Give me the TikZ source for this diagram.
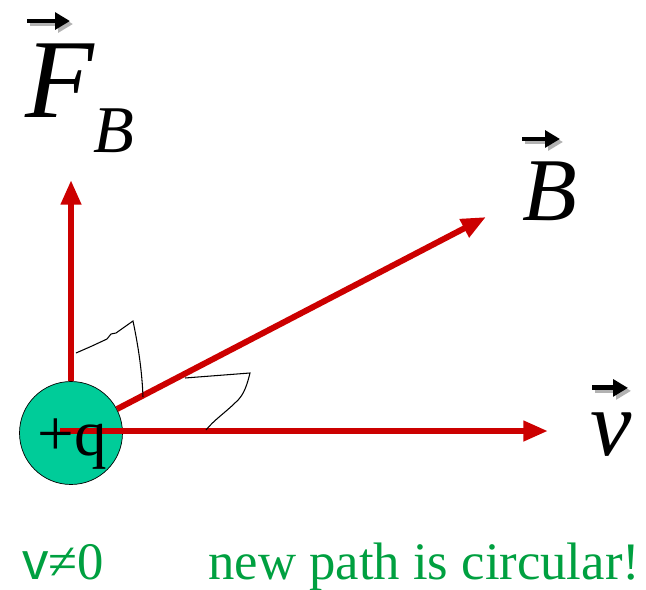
\documentclass[tikz,border=0pt]{standalone}
\usepackage{fontspec}
\setmainfont{Liberation Serif}
\newfontfamily\arialfont{Liberation Sans}
\usetikzlibrary{arrows.meta,calc}
\definecolor{chargeteal}{HTML}{00CC99}
\definecolor{vecred}{HTML}{CC0000}
\definecolor{notegreen}{HTML}{00A040}

\begin{document}
\begin{tikzpicture}[x=0.02cm, y=-0.02cm]
      % Styles
      \tikzset{
        charge/.style = {circle, draw=black, thin, fill=chargeteal, minimum size=2.06cm, inner sep=0pt},
        vecarrow/.style = {draw=vecred, line width=3.4pt, -{Triangle[length=14pt, width=11pt]}},
        veclabel/.style = {inner sep=0pt, anchor=base west},
        accent/.style = {line width=2.8pt, -{Triangle[length=8.5pt, width=9.5pt]}},
        scribble/.style = {draw=black, line width=0.6pt},
        note/.style = {inner sep=0pt, anchor=base west, text=notegreen, font=\fontsize{30}{30}\selectfont}
      }
      \useasboundingbox (0,0) rectangle (646,589);

      % Charge
      \node[charge] (q) at (71,433) {};

      % Pointes des vecteurs
      \coordinate (Ftip) at (71,180);
      \coordinate (Btip) at (486,217);
      \coordinate (vtip) at (548,431);
      \coordinate (vstart) at ($(q.center)+(-11,-2)$);

      % Vecteurs
      \draw[vecarrow] (q) -- (Ftip);
      \draw[vecarrow] (q) -- (Btip);
      \draw[vecarrow] (vstart) -- (vtip);

      \node[inner sep=0pt, anchor=base, font=\fontsize{37}{37}\selectfont] (qlab) at (72,455) {+q};

      % Angles droits (traits a main levee)
      \draw[scribble] (76,353) -- (92,346) -- (107,339) -- (111,334) -- (116,333) -- (133,321)
        .. controls (138,345) and (142,370) .. (143,397);
      \draw[scribble] (185,378) -- (250,373)
        .. controls (247,385) and (244,395) .. (236,402)
        .. controls (226,412) and (214,420) .. (206,430);

      % Etiquettes
      \node[veclabel, font=\itshape\fontsize{64}{64}\selectfont] (Flab) at (25,117) {F};
      \node[veclabel, font=\itshape\fontsize{38}{38}\selectfont] (FBlab) at (93,152) {B};
      \node[veclabel, font=\itshape\fontsize{51}{51}\selectfont] (Blab) at (522,220) {B};
      \node[veclabel, font=\itshape\fontsize{53}{53}\selectfont] (vlab) at (590,455) {v};

      % Fleches au-dessus des lettres
      \foreach \lab/\xa/\xb/\dy in {Flab/2/45/-22, Blab/0/38/-22, vlab/2/38/-24} {
        \draw[accent, black!30] ($(\lab.north west)+(\xa+3,\dy+3)$) -- ($(\lab.north west)+(\xb+3,\dy+3)$);
        \draw[accent, black] ($(\lab.north west)+(\xa,\dy)$) -- ($(\lab.north west)+(\xb,\dy)$);
      }

      % Notes
      \node[note] (vnote) at (22,579) {{\arialfont v}≠0};
      \node[note] (pathnote) at (208,579) {new path is circular!};

    \end{tikzpicture}
\end{document}
